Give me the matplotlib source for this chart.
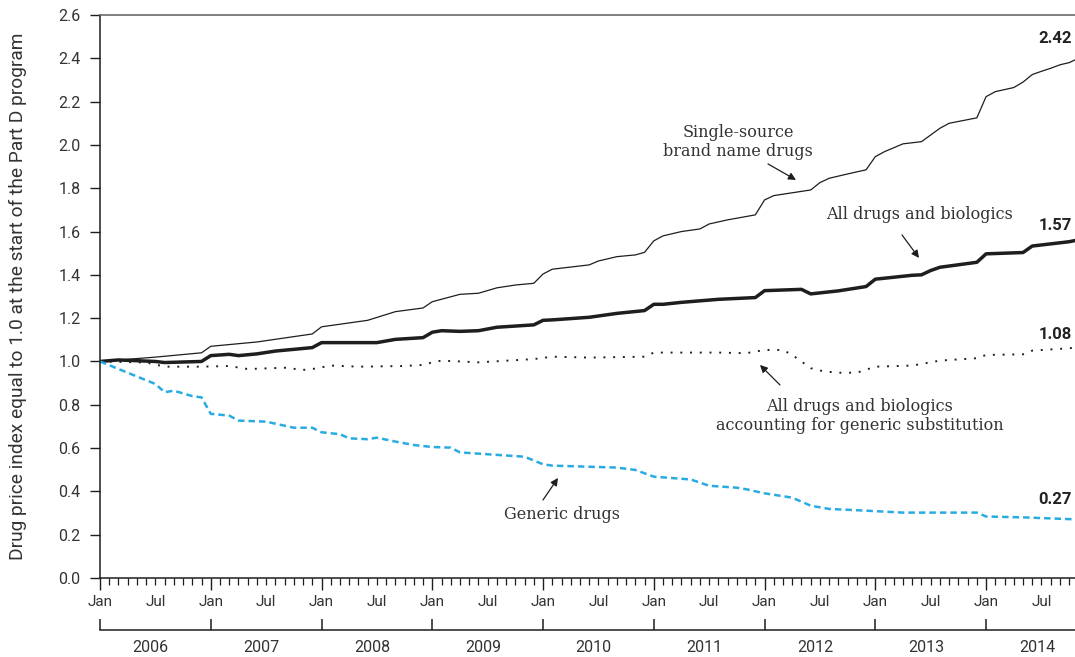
import matplotlib
matplotlib.use("Agg")
import matplotlib.pyplot as plt
from matplotlib.ticker import FixedLocator, FuncFormatter, NullFormatter

# months since Jan 2006
brand_months = [0, 6, 11, 12, 17, 23, 24, 29, 32, 35, 36, 39, 41, 43, 45, 47, 48, 49, 53, 54,
                56, 58, 59, 60, 61, 63, 65, 66, 68, 71, 72, 73, 77, 78, 79, 81, 83, 84, 85, 87,
                89, 91, 92, 95, 96, 97, 99, 100, 101, 102, 103, 104, 105, 106, 107]
brand_vals = [1.00, 1.02, 1.04, 1.07, 1.09, 1.127, 1.16, 1.19, 1.23, 1.247, 1.276, 1.31, 1.315,
              1.34, 1.353, 1.361, 1.404, 1.426, 1.446, 1.464, 1.484, 1.492, 1.504, 1.557, 1.58,
              1.60, 1.612, 1.635, 1.654, 1.677, 1.746, 1.766, 1.792, 1.826, 1.846, 1.866, 1.885,
              1.946, 1.969, 2.005, 2.015, 2.077, 2.10, 2.125, 2.223, 2.246, 2.265, 2.29, 2.325,
              2.34, 2.354, 2.37, 2.38, 2.40, 2.42]

all_months = [0, 2, 6, 7, 11, 12, 14, 15, 17, 19, 23, 24, 27, 30, 32, 35, 36, 37, 39, 41, 43,
              47, 48, 49, 53, 54, 56, 59, 60, 61, 63, 67, 71, 72, 76, 77, 80, 83, 84, 88, 89,
              90, 91, 95, 96, 100, 101, 103, 105, 107]
all_vals = [1.00, 1.007, 1.00, 0.995, 1.00, 1.027, 1.033, 1.027, 1.035, 1.048, 1.064, 1.087,
            1.087, 1.087, 1.102, 1.11, 1.135, 1.142, 1.139, 1.142, 1.158, 1.169, 1.19, 1.192,
            1.204, 1.21, 1.222, 1.235, 1.264, 1.264, 1.273, 1.287, 1.295, 1.327, 1.333, 1.312,
            1.326, 1.346, 1.38, 1.398, 1.40, 1.42, 1.435, 1.458, 1.497, 1.503, 1.533, 1.543,
            1.553, 1.57]

subst_months = [0, 5, 6, 7, 11, 14, 16, 20, 22, 23, 25, 28, 33, 35, 36, 37, 41, 47, 49, 53,
                59, 60, 67, 70, 72, 74, 75, 76, 77, 78, 79, 80, 82, 84, 88, 91, 95, 96, 100,
                101, 105, 106, 107]
subst_vals = [1.00, 0.995, 0.986, 0.976, 0.976, 0.979, 0.965, 0.971, 0.961, 0.965, 0.981, 0.976,
              0.979, 0.984, 0.996, 1.004, 0.996, 1.011, 1.022, 1.018, 1.022, 1.041, 1.041, 1.038,
              1.053, 1.053, 1.03, 1.00, 0.969, 0.958, 0.952, 0.948, 0.948, 0.976, 0.981, 1.004,
              1.015, 1.03, 1.033, 1.05, 1.061, 1.065, 1.08]

generic_months = [0, 6, 7, 8, 10, 11, 12, 14, 15, 18, 21, 23, 24, 26, 27, 29, 30, 32, 34, 36,
                  38, 39, 46, 48, 49, 56, 58, 60, 64, 66, 69, 70, 72, 75, 77, 79, 83, 87, 95,
                  96, 100, 105, 107]
generic_vals = [1.00, 0.896, 0.858, 0.865, 0.840, 0.834, 0.758, 0.75, 0.727, 0.722, 0.694, 0.694,
                0.673, 0.664, 0.645, 0.641, 0.648, 0.63, 0.614, 0.605, 0.602, 0.58, 0.56, 0.525,
                0.519, 0.51, 0.499, 0.468, 0.455, 0.426, 0.417, 0.41, 0.391, 0.371, 0.334, 0.319,
                0.311, 0.302, 0.302, 0.284, 0.28, 0.272, 0.27]

end_labels = ["2.42", "1.57", "1.08", "0.27"]
years = list(range(2006, 2015))
month_names = {0: "Jan", 6: "Jul"}

TXT = "#333333"
LINE = "#1e1e1e"
BLUE = "#29abe2"
SERIF = ["DejaVu Serif"]
SANS = ["Roboto", "DejaVu Sans"]

plt.rcParams["font.family"] = SANS

fig = plt.figure(figsize=(10.75, 6.57), dpi=100)
ax = fig.add_axes([100 / 1075, 1 - 578 / 657, 975 / 1075, 563 / 657])

ax.plot(brand_months, brand_vals, color=LINE, lw=0.9)
ax.plot(all_months, all_vals, color=LINE, lw=2.5)
ax.plot(subst_months, subst_vals, color=LINE, lw=1.4, linestyle=(0, (1, 4)))
ax.plot(generic_months, generic_vals, color=BLUE, lw=1.8, linestyle=(0, (2.6, 1.6)))

ax.set_xlim(0, 975 / 9.23)
ax.set_ylim(0, 2.6)

# spines
ax.spines["right"].set_visible(False)
ax.spines["top"].set_color("#6a6a6a")
ax.spines["top"].set_linewidth(1.2)
for s in ("left", "bottom"):
    ax.spines[s].set_color(LINE)
    ax.spines[s].set_linewidth(1.1)

# y axis
ax.set_yticks([i * 0.2 for i in range(14)])
ax.yaxis.set_major_formatter(FuncFormatter(lambda v, p: f"{v:.1f}"))
ax.tick_params(axis="y", direction="out", length=7, width=1, pad=7, labelsize=11.5,
               colors=LINE, labelcolor=TXT)
fig.text(18 / 1075, 1 - 296 / 657, "Drug price index equal to 1.0 at the start of the Part D program",
         rotation=90, ha="center", va="center", fontsize=13.8, color=TXT)

# month ticks
ax.xaxis.set_major_locator(FixedLocator([12 * i for i in range(10)]))
ax.xaxis.set_minor_locator(FixedLocator(list(range(0, 108))))
ax.xaxis.set_major_formatter(FuncFormatter(lambda v, p: "Jan"))
ax.xaxis.set_minor_formatter(FuncFormatter(lambda v, p: month_names.get(int(round(v)) % 12, "")
                                           if int(round(v)) % 12 == 6 else ""))
ax.tick_params(axis="x", which="major", direction="out", length=8.5, width=1, pad=4,
               labelsize=11, colors=LINE, labelcolor=TXT)
ax.tick_params(axis="x", which="minor", direction="out", length=5, width=0.9, pad=7.5,
               labelsize=11, colors=LINE, labelcolor=TXT)

# year row
sec = ax.secondary_xaxis((578 - 630) / 563)
sec.spines["bottom"].set_color(LINE)
sec.spines["bottom"].set_linewidth(1.1)
sec.xaxis.set_major_locator(FixedLocator([12 * i for i in range(10)]))
sec.xaxis.set_major_formatter(NullFormatter())
sec.xaxis.set_minor_locator(FixedLocator([12 * i + 5.5 for i in range(len(years))]))
sec.xaxis.set_minor_formatter(FuncFormatter(lambda v, p: str(years[int(v // 12)])))
sec.tick_params(axis="x", which="major", direction="in", length=8, width=1.1, colors=LINE)
sec.tick_params(axis="x", which="minor", length=0, pad=7, labelsize=11.5, labelcolor=TXT)


def px(x, y):
    return (x - 100) / 9.23, (578 - y) / 216.5


arrow = dict(arrowstyle="-|>", color=LINE, lw=0.9, mutation_scale=11, shrinkA=0, shrinkB=0)

ax.text(*px(738, 142), "Single-source\nbrand name drugs", ha="center", va="center",
        fontsize=11.5, color=TXT, family=SERIF, linespacing=1.1)
ax.annotate("", xy=px(796, 180), xytext=px(768, 164), arrowprops=arrow)

ax.text(*px(920, 215), "All drugs and biologics", ha="center", va="center",
        fontsize=11.5, color=TXT, family=SERIF)
ax.annotate("", xy=px(919, 258), xytext=px(902, 235), arrowprops=arrow)

ax.text(*px(860, 416), "All drugs and biologics\naccounting for generic substitution",
        ha="center", va="center", fontsize=11.5, color=TXT, family=SERIF, linespacing=1.1)
ax.annotate("", xy=px(760, 365), xytext=px(780, 385), arrowprops=arrow)

ax.text(*px(562, 515), "Generic drugs", ha="center", va="center",
        fontsize=11.5, color=TXT, family=SERIF)
ax.annotate("", xy=px(558, 478), xytext=px(543, 500), arrowprops=arrow)

# end-of-series values, kept just inside the right edge
for lab, ypx in zip(end_labels, [39, 226, 335, 500]):
    ax.text(*px(1072, ypx), lab, ha="right", va="center", fontsize=12,
            fontweight="bold", color="#222222", clip_on=False)

fig.savefig("out.png", dpi=100)
